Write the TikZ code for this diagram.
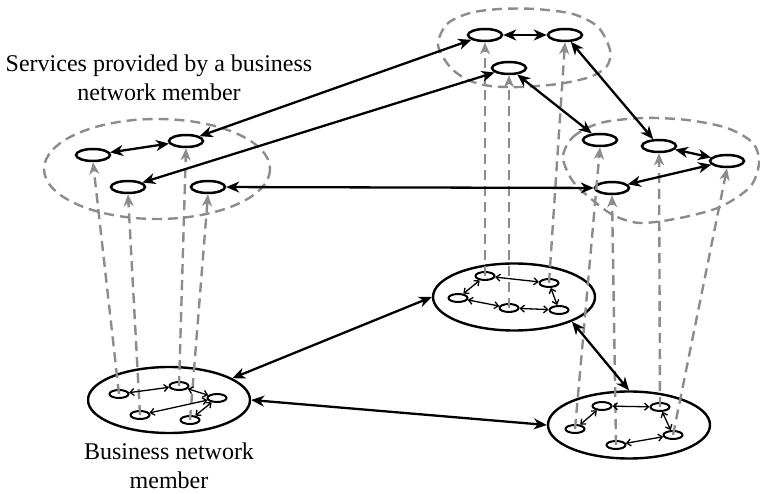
\documentclass[tikz,border=0pt]{standalone}
\usepackage{fontspec}
\setmainfont{Liberation Serif}
\usetikzlibrary{arrows.meta,shapes.geometric}
\definecolor{dgray}{RGB}{140,140,140}
\begin{document}
\begin{tikzpicture}[x=1pt,y=-1pt,
  svc/.style={draw, ellipse, line width=2.5pt, minimum width=34pt, minimum height=12pt, inner sep=0pt},
  mem/.style={draw, ellipse, line width=2.4pt, minimum width=162pt, minimum height=67pt, inner sep=0pt},
  sub/.style={draw, ellipse, line width=2pt, minimum width=19pt, minimum height=8pt, inner sep=0pt},
  link/.style={line width=2.3pt, {Stealth[length=13pt,width=11pt,inset=4pt]}-{Stealth[length=13pt,width=11pt,inset=4pt]}},
  sublink/.style={line width=1.3pt, {Straight Barb[length=4pt,width=7pt]}-{Straight Barb[length=4pt,width=7pt]}},
  map/.style={dgray, line width=2.4pt, dash pattern=on 10pt off 6pt, -{Stealth[length=12pt,width=10pt,inset=3.5pt]}},
  group/.style={dgray, line width=2.4pt, dash pattern=on 10pt off 6pt},
  lbl/.style={font=\fontsize{24}{29}\selectfont, align=center, inner sep=0pt}
]
\useasboundingbox (0,0) rectangle (760,494);

% dashed service groups
\draw[group] (157,169) ellipse [x radius=113, y radius=50];
\draw[group] plot[smooth cycle] coordinates {(438,45) (447,24) (470,13) (500,9) (535,9) (573,14) (598,27) (610,50) (607,66) (590,77) (558,84) (520,87) (490,86) (468,80) (450,67)};
\draw[group] plot[smooth cycle] coordinates {(563,157) (573,137) (600,123) (643,118) (687,120) (727,128) (753,143) (759,163) (750,187) (720,207) (680,218) (640,223) (613,215) (590,198) (572,180)};

% service nodes
\node[svc] (T1) at (485,35) {};
\node[svc] (T2) at (565,35) {};
\node[svc] (T3) at (509,68) {};
\node[svc] (R1) at (600,140) {};
\node[svc] (R2) at (659,146) {};
\node[svc] (R3) at (727,161) {};
\node[svc] (R4) at (612,188) {};
\node[svc] (L1) at (93,155) {};
\node[svc] (L2) at (186,141) {};
\node[svc] (L3) at (128,187) {};
\node[svc] (L4) at (208,187) {};

% business network members
\node[mem, minimum height=66pt] (A) at (169,400) {};
\node[mem] (M) at (514,297) {};
\node[mem] (B) at (629,425) {};

\node[sub] (A1) at (119,394) {};
\node[sub] (A2) at (179,386) {};
\node[sub] (A3) at (217,398) {};
\node[sub] (A4) at (140,415) {};
\node[sub] (A5) at (190,420) {};

\node[sub] (M1) at (485,276) {};
\node[sub] (M2) at (549,283) {};
\node[sub] (M3) at (458,298) {};
\node[sub] (M4) at (509,308) {};
\node[sub] (M5) at (559,310) {};

\node[sub] (B1) at (602,406) {};
\node[sub] (B2) at (660,407) {};
\node[sub] (B3) at (575,429) {};
\node[sub] (B4) at (673,435) {};
\node[sub] (B5) at (616,445) {};

% mapping lines
\draw[map] (A1.center) -- (L1.south);
\draw[map] (A4.center) -- (L3.south);
\draw[map] (A2.center) -- (L2.south);
\draw[map] (A5.center) -- (L4.south);
\draw[map] (M1.center) -- (T1.south);
\draw[map] (M4.center) -- (T3.south);
\draw[map] (M2.center) -- (T2.south);
\draw[map] (B3.center) -- (R1.south);
\draw[map] (B5.center) -- (R4.south);
\draw[map] (B2.center) -- (R2.south);
\draw[map] (B4.center) -- (R3.south);

% internal links
\draw[sublink] (A1) -- (A2);
\draw[sublink] (A2) -- (A3);
\draw[sublink] (A3) -- (A4);
\draw[sublink] (A3) -- (A5);
\draw[sublink] (M1) -- (M2);
\draw[sublink] (M1) -- (M3);
\draw[sublink] (M3) -- (M4);
\draw[sublink] (M4) -- (M5);
\draw[sublink] (M2) -- (M5);
\draw[sublink] (B1) -- (B2);
\draw[sublink] (B1) -- (B3);
\draw[sublink] (B2) -- (B4);
\draw[sublink] (B4) -- (B5);

% service links
\draw[link] (L1) -- (L2);
\draw[link] (L2) -- (T1);
\draw[link] (L3) -- (T3);
\draw[link] (L4) -- (R4);
\draw[link] (T1) -- (T2);
\draw[link] (T2) -- (R2);
\draw[link] (T3) -- (R1);
\draw[link] (R2) -- (R3);
\draw[link] (R3) -- (R4);

% member links
\draw[link] (A.19) -- (M.west);
\draw[link] (A.east) -- (B.west);
\draw[link] (M.-23) -- (B.north);

% labels
\node[lbl] (cap1) at (159,78) {Services provided by a business\\network member};
\node[lbl] (cap2) at (169,466) {Business network\\member};
\end{tikzpicture}
\end{document}
